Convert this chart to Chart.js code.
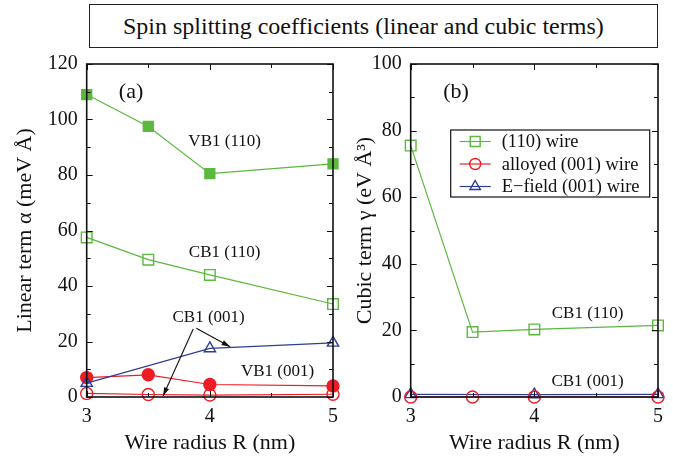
<!DOCTYPE html>
<html>
<head>
<meta charset="utf-8">
<script src="https://cdn.jsdelivr.net/npm/chart.js@4"></script>
<style>
  html, body { margin: 0; padding: 0; background: #fff; }
  #wrap { position: relative; width: 673px; height: 459px; overflow: hidden; }
  canvas { position: absolute; left: 0; top: 0; }
  #title {
    position: absolute; left: 89px; top: 4px; width: 567px; height: 42px;
    border: 1.5px solid #222; box-sizing: content-box;
    font: 24px "Liberation Serif", serif; color: #111;
    line-height: 42px; text-align: left; text-indent: 33px; white-space: nowrap;
  }
</style>
</head>
<body>
<div id="wrap">
  <div id="title">Spin splitting coefficients (linear and cubic terms)</div>
  <canvas id="chartA" width="673" height="459"></canvas>
  <canvas id="chartB" width="673" height="459"></canvas>
</div>
<script>
// --- data ---
const radii = [3, 3.5, 4, 5];
const radiiEField = [3, 4, 5];

// (a) linear term alpha (meV A)
const vb110 = [109, 97.5, 80.5, 84];
const cb110 = [57.5, 49.5, 44, 33.5];
const vb001 = [7, 8, 4.5, 4];
const cb001 = [1.3, 0.9, 0.7, 1];
const cbEField = [5, 17.5, 19.5];

// (b) cubic term gamma (eV A^3)
const cubic110 = [75.5, 19.5, 20.3, 21.5];
const cubicAlloy = [0, 0, 0, 0];
const cubicEField = [0.8, 0.7, 0.8];

const xTicks = [3, 4, 5];
const yTicksA = [0, 20, 40, 60, 80, 100, 120];
const yTicksB = [0, 20, 40, 60, 80, 100];

const GREEN = '#5cb83e';
const RED = '#ee1c25';
const BLUE = '#2e3d98';
const SERIF = '"Liberation Serif", "Times New Roman", serif';

const pts = (xs, ys) => xs.map((x, i) => ({ x: x, y: ys[i] }));

const series = (label, xs, ys, color, style, filled, r) => ({
  label: label,
  data: pts(xs, ys),
  borderColor: color,
  backgroundColor: filled ? color : 'rgba(0,0,0,0)',
  pointBackgroundColor: filled ? color : 'rgba(0,0,0,0)',
  pointBorderColor: color,
  pointStyle: style,
  pointRadius: r,
  pointBorderWidth: 1.4,
  borderWidth: 1.2,
  tension: 0,
  clip: false
});

// --- plugin: full frame + inward ticks on all four sides ---
const frameTicks = {
  id: 'frameTicks',
  afterDraw(chart, args, opts) {
    const { ctx, chartArea: a, scales } = chart;
    const x = scales.x, y = scales.y;
    ctx.save();
    ctx.strokeStyle = '#111';
    ctx.lineWidth = 1;
    for (let v = x.min; v <= x.max + 1e-9; v += 0.5) {
      const px = Math.round(x.getPixelForValue(v)) + 0.5;
      const len = Math.abs(v - Math.round(v)) < 1e-9 ? 6 : 4;
      ctx.beginPath();
      ctx.moveTo(px, a.bottom); ctx.lineTo(px, a.bottom - len);
      ctx.moveTo(px, a.top); ctx.lineTo(px, a.top + len);
      ctx.stroke();
    }
    for (let v = y.min; v <= y.max + 1e-9; v += 10) {
      const py = Math.round(y.getPixelForValue(v)) + 0.5;
      const len = v % 20 === 0 ? 6 : 4;
      ctx.beginPath();
      ctx.moveTo(a.left, py); ctx.lineTo(a.left + len, py);
      ctx.moveTo(a.right, py); ctx.lineTo(a.right - len, py);
      ctx.stroke();
    }
    ctx.lineWidth = 1.6;
    ctx.strokeRect(a.left, a.top, a.right - a.left, a.bottom - a.top);
    ctx.restore();
  }
};

// --- plugin: labels, arrows and the legend box ---
const notes = {
  id: 'notes',
  afterDraw(chart, args, opts) {
    const { ctx, scales, chartArea: a } = chart;
    const X = v => scales.x.getPixelForValue(v);
    const Y = v => scales.y.getPixelForValue(v);
    ctx.save();
    ctx.fillStyle = '#111';
    ctx.textAlign = 'center';
    ctx.textBaseline = 'middle';
    (opts.texts || []).forEach(t => {
      ctx.font = t.size + 'px ' + SERIF;
      ctx.fillText(t.text, X(t.x), Y(t.y));
    });
    (opts.arrows || []).forEach(ar => {
      const x0 = X(ar[0]), y0 = Y(ar[1]), x1 = X(ar[2]), y1 = Y(ar[3]);
      const ang = Math.atan2(y1 - y0, x1 - x0);
      ctx.strokeStyle = '#111';
      ctx.lineWidth = 1.1;
      ctx.beginPath(); ctx.moveTo(x0, y0); ctx.lineTo(x1, y1); ctx.stroke();
      ctx.beginPath();
      ctx.moveTo(x1, y1);
      ctx.lineTo(x1 - 9 * Math.cos(ang - 0.3), y1 - 9 * Math.sin(ang - 0.3));
      ctx.lineTo(x1 - 9 * Math.cos(ang + 0.3), y1 - 9 * Math.sin(ang + 0.3));
      ctx.closePath(); ctx.fill();
    });
    if (opts.legend) {
      const L = opts.legend;
      const bx = a.left + L.left, by = a.top + L.top;
      ctx.fillStyle = '#fff';
      ctx.fillRect(bx, by, L.w, L.h);
      ctx.strokeStyle = '#111';
      ctx.lineWidth = 1.2;
      ctx.strokeRect(bx, by, L.w, L.h);
      ctx.textAlign = 'left';
      ctx.font = '18.5px ' + SERIF;
      chart.data.datasets.forEach((ds, i) => {
        const ry = by + 11.5 + i * 22.5;
        ctx.strokeStyle = ds.borderColor;
        ctx.lineWidth = 1.2;
        ctx.beginPath(); ctx.moveTo(bx + 9, ry); ctx.lineTo(bx + 40, ry); ctx.stroke();
        ctx.lineWidth = 1.4;
        ctx.fillStyle = 'rgba(0,0,0,0)';
        Chart.helpers.drawPoint(ctx, {
          pointStyle: ds.pointStyle, radius: ds.pointRadius - 0.5, borderWidth: 1.4, rotation: 0
        }, bx + 24.5, ry);
        ctx.fillStyle = '#111';
        ctx.fillText(ds.label, bx + 51, ry + 1);
      });
    }
    ctx.restore();
  }
};

const axes = (ymax, yTicks, yTitle, yWidth) => ({
  x: {
    type: 'linear', min: 3, max: 5,
    afterBuildTicks: s => { s.ticks = xTicks.map(v => ({ value: v })); },
    afterFit: s => { s.height = 62; },
    grid: { display: false, drawTicks: false },
    border: { display: false },
    ticks: { padding: 8, color: '#111', font: { family: SERIF, size: 20 } },
    title: {
      display: true, text: 'Wire radius R (nm)', color: '#111',
      font: { family: SERIF, size: 22 }, padding: { top: 3, bottom: 3 }
    }
  },
  y: {
    type: 'linear', min: 0, max: ymax,
    afterBuildTicks: s => { s.ticks = yTicks.map(v => ({ value: v })); },
    afterFit: s => { s.width = yWidth; },
    grid: { display: false, drawTicks: false },
    border: { display: false },
    ticks: { padding: 9, color: '#111', font: { family: SERIF, size: 20 } },
    title: {
      display: true, text: yTitle, color: '#111',
      font: { family: SERIF, size: 22 }, padding: { top: 12, bottom: 12 }
    }
  }
});

const baseOptions = (pad, scales, pluginOpts) => ({
  responsive: false,
  animation: false,
  events: [],
  layout: { padding: pad },
  scales: scales,
  plugins: { legend: { display: false }, tooltip: { enabled: false }, notes: pluginOpts }
});

new Chart(document.getElementById('chartA'), {
  type: 'line',
  data: {
    datasets: [
      series('VB1 (110)', radii, vb110, GREEN, 'rect', true, 7),
      series('CB1 (110)', radii, cb110, GREEN, 'rect', false, 7.5),
      series('E-field CB1 (001)', radiiEField, cbEField, BLUE, 'triangle', false, 6.5),
      series('VB1 (001)', radii, vb001, RED, 'circle', true, 6),
      series('CB1 (001)', radii, cb001, RED, 'circle', false, 6)
    ]
  },
  options: baseOptions(
    { left: 0, right: 340, top: 64, bottom: 0 },
    axes(120, yTicksA, 'Linear term \u03b1 (meV \u00c5)', 86.7),
    {
      texts: [
        { text: '(a)', x: 3.36, y: 110, size: 22 },
        { text: 'VB1 (110)', x: 4.12, y: 91.9, size: 17 },
        { text: 'CB1 (110)', x: 4.12, y: 51.9, size: 17 },
        { text: 'CB1 (001)', x: 3.99, y: 28.5, size: 17 },
        { text: 'VB1 (001)', x: 4.55, y: 9, size: 17 }
      ],
      arrows: [
        [3.89, 24.8, 4.165, 18.1],
        [3.865, 24.5, 3.62, 0.35]
      ]
    }
  ),
  plugins: [frameTicks, notes]
});

new Chart(document.getElementById('chartB'), {
  type: 'line',
  data: {
    datasets: [
      series('(110) wire', radii, cubic110, GREEN, 'rect', false, 7.5),
      series('alloyed (001) wire', radii, cubicAlloy, RED, 'circle', false, 6),
      series('E\u2212field (001) wire', radiiEField, cubicEField, BLUE, 'triangle', false, 6.5)
    ]
  },
  options: baseOptions(
    { left: 340, right: 15, top: 64, bottom: 0 },
    axes(100, yTicksB, 'Cubic term \u03b3 (eV \u00c5\u00b3)', 70.7),
    {
      texts: [
        { text: '(b)', x: 3.366, y: 91.6, size: 22 },
        { text: 'CB1 (110)', x: 4.43, y: 25.2, size: 17 },
        { text: 'CB1 (001)', x: 4.43, y: 4.5, size: 17 }
      ],
      legend: { left: 40, top: 66, w: 199, h: 67 }
    }
  ),
  plugins: [frameTicks, notes]
});
</script>
</body>
</html>
